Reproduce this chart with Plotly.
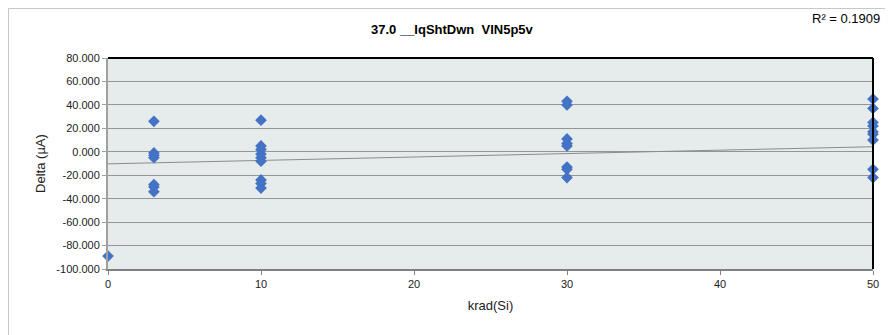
import plotly.graph_objects as go

# dose levels (krad(Si)) and measured deltas (uA)
dose = [0,
        3, 3, 3, 3, 3, 3, 3,
        10, 10, 10, 10, 10, 10, 10, 10, 10,
        30, 30, 30, 30, 30, 30, 30, 30,
        50, 50, 50, 50, 50, 50, 50, 50, 50]
delta = [-89,
         26, -1, -3, -5, -28, -30, -34,
         27, 5, 2, -2, -5, -8, -24, -27, -31,
         43, 40, 11, 7, 5, -13, -15, -22,
         45, 37, 25, 22, 17, 15, 10, -15, -22]

# trendline as drawn in the source chart
trend_x = [0, 50]
trend_y = [-10.3, 4.3]

y_ticks = [80, 60, 40, 20, 0, -20, -40, -60, -80, -100]
y_labels = ["80.000", "60.000", "40.000", "20.000", "0.000", "-20.000",
            "-40.000", "-60.000", "-80.000", "-100.000"]
x_ticks = [0, 10, 20, 30, 40, 50]

font = "Liberation Sans"

pts = go.Scatter(x=dose, y=delta, mode="markers", cliponaxis=False,
                 marker=dict(symbol="diamond", size=9, color="#4472C4"),
                 showlegend=False)
trend = go.Scatter(x=trend_x, y=trend_y, mode="lines",
                   line=dict(color="#8C8C8C", width=1), showlegend=False)

# page body has an 8px margin, so the figure is sized/offset for it
layout = go.Layout(
    width=885, height=327,
    margin=dict(l=100, r=20, t=50, b=66),
    paper_bgcolor="white",
    plot_bgcolor="#E6EBEB",
    font=dict(family=font, size=11, color="#222"),
    xaxis=dict(range=[0, 50], tickvals=x_ticks, showgrid=False, zeroline=False,
               showline=True, linecolor="#808080", linewidth=2, mirror=False,
               ticks="outside", ticklen=4, tickcolor="#808080",
               title=dict(text="krad(Si)", font=dict(size=13), standoff=12)),
    yaxis=dict(range=[-100, 80], tickvals=y_ticks, ticktext=y_labels,
               showgrid=True, gridcolor="#959595", gridwidth=1, zeroline=False,
               showline=True, linecolor="#A0A0A0", linewidth=2,
               ticks="outside", ticklen=4, tickcolor="#A0A0A0",
               title=dict(text="Delta (µA)", font=dict(size=13), standoff=8)),
    shapes=[
        dict(type="line", xref="paper", yref="paper", x0=0, x1=1, y0=1, y1=1,
             line=dict(color="black", width=2)),
        dict(type="line", xref="paper", yref="paper", x0=1, x1=1, y0=0, y1=1,
             line=dict(color="black", width=2)),
        dict(type="rect", xref="paper", yref="paper",
             x0=-99.5 / 765, x1=1.2, y0=-1, y1=1 + 49.5 / 211,
             line=dict(color="#C8C8C8", width=1)),
    ],
    annotations=[
        dict(text="<b>37.0 __IqShtDwn  VIN5p5v</b>", xref="paper", yref="paper",
             x=(452 - 108) / 765, y=1 + 28 / 211, yanchor="middle",
             showarrow=False, font=dict(size=13, color="black")),
        dict(text="R² = 0.1909", xref="paper", yref="paper",
             x=(882 - 108) / 765, xanchor="right", y=1 + 40 / 211,
             yanchor="middle", showarrow=False,
             font=dict(size=13, color="black")),
    ],
)

fig = go.Figure(data=[trend, pts], layout=layout)
fig.write_html("out.html")
